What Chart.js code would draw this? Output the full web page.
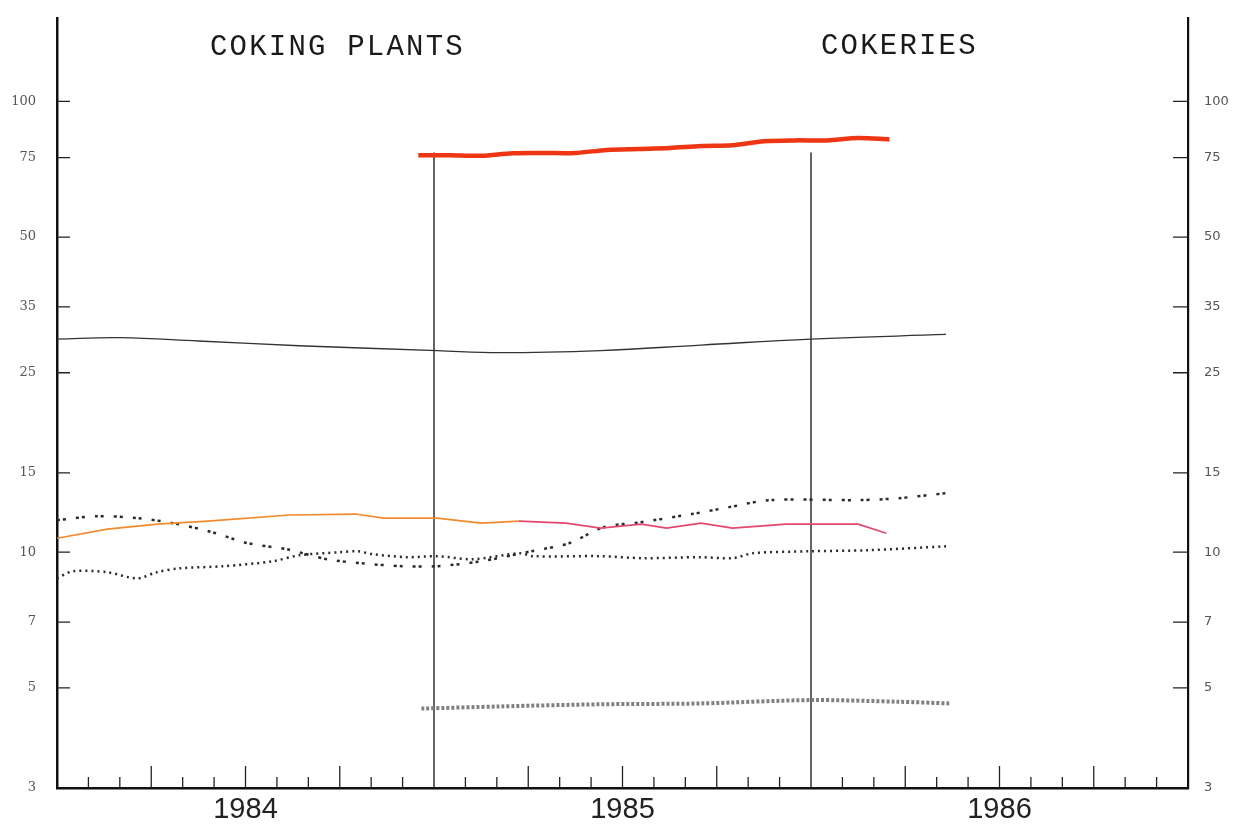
<!DOCTYPE html>
<html>
<head>
<meta charset="utf-8">
<script src="https://cdn.jsdelivr.net/npm/chart.js@4.4.1/dist/chart.umd.min.js"></script>
<style>
  html, body { margin: 0; padding: 0; background: #ffffff; }
  #wrap { width: 1239px; height: 832px; position: relative; }
</style>
</head>
<body>
<div id="wrap"><canvas id="c" width="1239" height="832"></canvas></div>
<script>
// ---- Data (x = months since January 1984) ----
const yearLabels = ['1984', '1985', '1986'];
const yearLabelMonths = [6, 18, 30];
const yTickValues = [100, 75, 50, 35, 25, 15, 10, 7, 5, 3];
const titles = ['COKING PLANTS', 'COKERIES'];

const redMonths = [11.5, 12.5, 13.5, 14.5, 15.5, 16.5, 17.5, 18.5, 19.5, 20.5, 21.5, 22.5, 23.5, 24.5, 25.5, 26.5];
const redValues = [75.9, 75.9, 75.7, 76.7, 76.8, 76.8, 78.0, 78.4, 78.8, 79.6, 79.9, 81.5, 81.9, 81.9, 82.9, 82.3];

const blackMonths = [0, 2, 4.5, 7.7, 12.1, 14.1, 17.3, 20.5, 24, 28.3];
const blackValues = [29.7, 29.9, 29.4, 28.7, 28.0, 27.7, 28.0, 28.8, 29.7, 30.4];

const orangeMonths = [0, 1.6, 3.2, 4.8, 7.4, 9.5, 10.4, 12.1, 13.5, 14.7, 16.2, 17.3, 18.6, 19.4, 20.5, 21.5, 23.2, 24, 25.5, 26.4];
const orangeValues = [10.74, 11.25, 11.54, 11.72, 12.09, 12.15, 11.90, 11.90, 11.60, 11.72, 11.60, 11.31, 11.54, 11.31, 11.60, 11.31, 11.54, 11.54, 11.54, 11.02];

const upperDotMonths = [0, 1.3, 2.55, 3.69, 4.93, 6.08, 7.32, 8.59, 9.71, 11.0, 12.1, 13.5, 15.1, 16.3, 17.4, 18.6, 20.2, 21.4, 22.7, 25.6, 26.8, 28.3];
const upperDotValues = [11.78, 12.02, 11.90, 11.60, 11.08, 10.47, 10.15, 9.65, 9.45, 9.31, 9.31, 9.55, 10.05, 10.47, 11.36, 11.66, 12.15, 12.59, 13.05, 13.05, 13.18, 13.52];

const lowerDotMonths = [0, 0.5, 1.59, 2.55, 3.18, 3.91, 5.28, 6.87, 7.73, 9.0, 9.55, 10.06, 11.14, 12.09, 13.24, 14.74, 15.15, 17.28, 18.65, 20.46, 21.51, 22.15, 23.97, 25.78, 28.33];
const lowerDotValues = [8.75, 9.07, 9.03, 8.75, 9.03, 9.21, 9.31, 9.55, 9.85, 10.0, 10.05, 9.90, 9.75, 9.80, 9.65, 9.95, 9.80, 9.80, 9.70, 9.75, 9.70, 9.95, 10.05, 10.10, 10.31];

const greyDotMonths = [11.6, 14.1, 17.3, 20.5, 24, 26.8, 28.4];
const greyDotValues = [4.50, 4.55, 4.60, 4.62, 4.70, 4.66, 4.62];

const yearLineMonths = [12, 24];
const yearLineRange = [3, 77];

// ---- helpers ----
const pts = (xs, ys) => xs.map((x, i) => ({ x: x, y: ys[i] }));
const base = { pointRadius: 0, pointHoverRadius: 0, fill: false, yAxisID: 'y', xAxisID: 'x' };

const datasets = [
  Object.assign({}, base, { label: 'red', data: pts(redMonths, redValues), borderColor: '#ee3514', borderWidth: 4.5, tension: 0.3 }),
  Object.assign({}, base, { label: 'black', data: pts(blackMonths, blackValues), borderColor: '#333333', borderWidth: 1.3, tension: 0.4 }),
  Object.assign({}, base, { label: 'orange', data: pts(orangeMonths, orangeValues), borderColor: '#f38a2e', borderWidth: 1.6, tension: 0,
    segment: { borderColor: ctx => (ctx.p0.parsed.x >= 14.5 ? '#e5476f' : '#f38a2e') } }),
  Object.assign({}, base, { label: 'upper dotted', data: pts(upperDotMonths, upperDotValues), borderColor: '#2a2a2a', borderWidth: 2.5, borderDash: [3, 3, 3, 10], tension: 0.3 }),
  Object.assign({}, base, { label: 'lower dotted', data: pts(lowerDotMonths, lowerDotValues), borderColor: '#2a2a2a', borderWidth: 2.5, borderDash: [2, 4], tension: 0.3 }),
  Object.assign({}, base, { label: 'grey dotted', data: pts(greyDotMonths, greyDotValues), borderColor: '#808080', borderWidth: 4, borderDash: [3, 2], tension: 0.3 })
];
yearLineMonths.forEach(m => {
  datasets.push(Object.assign({}, base, { label: 'year ' + m, data: [{ x: m, y: yearLineRange[0] }, { x: m, y: yearLineRange[1] }], borderColor: '#222222', borderWidth: 1.4 }));
});

// custom inward tick marks + titles
const decorPlugin = {
  id: 'decor',
  afterDraw(chart) {
    const ctx = chart.ctx;
    const x = chart.scales.x, y = chart.scales.y;
    const area = chart.chartArea;
    ctx.save();
    ctx.strokeStyle = '#222';
    ctx.lineWidth = 1.3;
    for (let m = 1; m < 36; m++) {
      if (m % 12 === 0) continue;
      const px = x.getPixelForValue(m);
      const len = (m % 3 === 0) ? 22 : 11;
      ctx.beginPath();
      ctx.moveTo(px, area.bottom);
      ctx.lineTo(px, area.bottom - len);
      ctx.stroke();
    }
    yTickValues.forEach(v => {
      if (v === 3) return;
      const py = y.getPixelForValue(v);
      ctx.beginPath();
      ctx.moveTo(area.left, py); ctx.lineTo(area.left + 13, py);
      ctx.moveTo(area.right, py); ctx.lineTo(area.right - 15, py);
      ctx.stroke();
    });
    ctx.fillStyle = '#1a1a1a';
    ctx.font = '29px "Liberation Mono"';
    ctx.textBaseline = 'middle';
    ctx.textAlign = 'left';
    try { ctx.letterSpacing = '2.2px'; } catch (e) {}
    ctx.fillText(titles[0], 210, 47);
    ctx.fillText(titles[1], 821, 46);
    ctx.restore();
  }
};

const yTickConf = (family, pad) => ({
  padding: pad,
  color: '#555',
  font: { family: family, size: 13 },
  autoSkip: false,
  callback: (v) => String(v)
});

const fitY = (w) => (s) => { s.width = w; s.paddingTop = 0; s.paddingBottom = 0; };

new Chart(document.getElementById('c'), {
  type: 'line',
  data: { datasets: datasets },
  options: {
    responsive: false,
    animation: false,
    layout: { padding: { top: 18, left: 0, right: 0, bottom: 0 } },
    plugins: { legend: { display: false }, tooltip: { enabled: false }, title: { display: false } },
    scales: {
      x: {
        type: 'linear', position: 'bottom', min: 0, max: 36,
        grid: { display: false, drawTicks: false },
        border: { display: true, color: '#111', width: 2.5 },
        afterBuildTicks: (s) => { s.ticks = yearLabelMonths.map(v => ({ value: v })); },
        afterFit: (s) => { s.height = 44; s.paddingLeft = 0; s.paddingRight = 0; },
        ticks: {
          padding: 5, color: '#222', autoSkip: false, maxRotation: 0,
          font: { family: 'Liberation Sans', size: 29 },
          callback: (v) => { const i = yearLabelMonths.indexOf(v); return i >= 0 ? yearLabels[i] : ''; }
        }
      },
      y: {
        type: 'logarithmic', position: 'left', min: 3, max: 153,
        grid: { display: false, drawTicks: false },
        border: { display: true, color: '#111', width: 2.5 },
        afterBuildTicks: (s) => { s.ticks = yTickValues.map(v => ({ value: v })); },
        afterFit: fitY(57),
        ticks: yTickConf('DejaVu Serif', 21)
      },
      yR: {
        type: 'logarithmic', position: 'right', min: 3, max: 153,
        grid: { display: false, drawTicks: false },
        border: { display: true, color: '#111', width: 2.2 },
        afterBuildTicks: (s) => { s.ticks = yTickValues.map(v => ({ value: v })); },
        afterFit: fitY(51),
        ticks: yTickConf('DejaVu Sans', 16)
      }
    }
  },
  plugins: [decorPlugin]
});
</script>
</body>
</html>
